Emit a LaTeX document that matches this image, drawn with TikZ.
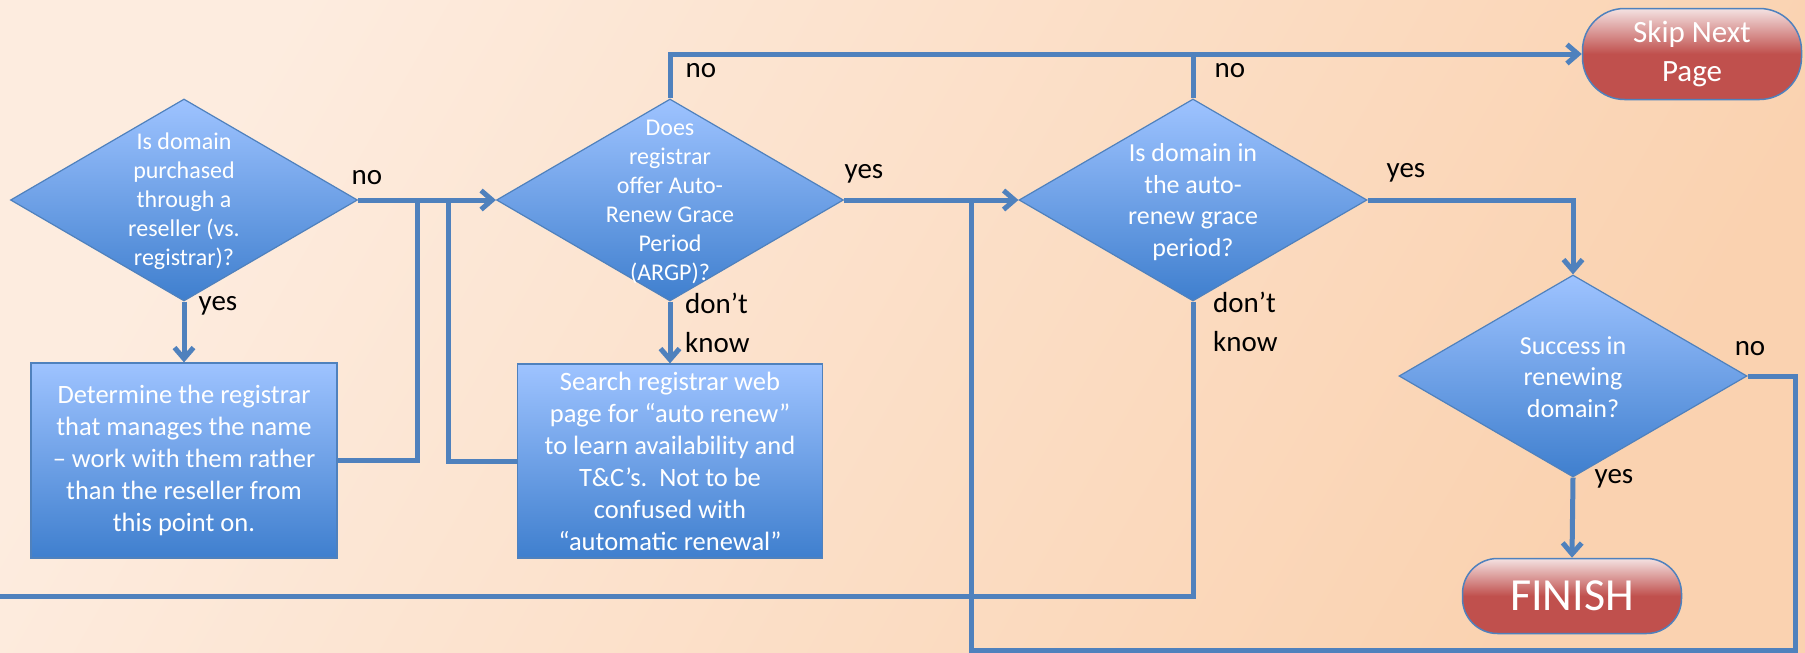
\documentclass[tikz,border=0pt]{standalone}
\usepackage{fontspec}
\setmainfont{Carlito}
\usetikzlibrary{shapes.geometric,arrows.meta}
\definecolor{bgL}{HTML}{FDECDF}
\definecolor{bgR}{HTML}{FAD2B0}
\definecolor{lineblue}{HTML}{4F81BD}
\definecolor{bTop}{HTML}{9EC3FF}
\definecolor{bBot}{HTML}{3F7FCE}
\definecolor{rTop}{HTML}{F4E2E2}
\definecolor{rMid}{HTML}{C0504D}
\begin{document}
\begin{tikzpicture}[x=1pt,y=-1pt,
  conn/.style={draw=lineblue, line width=5pt},
  arr/.style={conn, -{Straight Barb[length=11pt,width=19pt]}},
  dia/.style={diamond, draw=lineblue, line width=1.2pt, top color=bTop, bottom color=bBot,
    inner sep=0pt, minimum width=347pt, minimum height=202pt},
  dtext/.style={text=white, align=center, inner sep=0pt, font=\fontsize{24}{29}\selectfont},
  dtextb/.style={text=white, align=center, inner sep=0pt, font=\fontsize{26}{31.5}\selectfont},
  procbox/.style={rectangle, draw=lineblue, line width=1.2pt, top color=bTop, bottom color=bBot,
    text=white, align=center, inner sep=0pt, font=\fontsize{26.5}{32}\selectfont},
  term/.style={rectangle, draw=lineblue, line width=1.5pt, top color=rTop, bottom color=rMid,
    middle color=rMid, text=white, align=center, inner sep=0pt},
  lab/.style={text=black, inner sep=0pt, font=\fontsize{29}{39}\selectfont},
]
\useasboundingbox (0,0) rectangle (1805,653);
\shade[top color=bgL, bottom color=bgR, shading angle=60] (0,0) rectangle (1805,653);

% decisions
\node[dia] (d1) at (184,200) {};
\node[dtext] (t1) at (184,201) {Is domain\\purchased\\through a\\reseller (vs.\\registrar)?};
\node[dia] (d2) at (670,200) {};
\node[dtext] (t2) at (670,202) {Does\\registrar\\offer Auto-\\Renew Grace\\Period\\(ARGP)?};
\node[dia, minimum width=348pt] (d3) at (1193,200) {};
\node[dtextb] (t3) at (1193,202) {Is domain in\\the auto-\\renew grace\\period?};
\node[dia, minimum width=348pt] (d4) at (1573,376) {};
\node[dtextb] (t4) at (1573,377) {Success in\\renewing\\domain?};

% process boxes
\node[procbox, minimum width=306pt, minimum height=195pt] (b1) at (184,460.5)
  {Determine the registrar\\that manages the name\\– work with them rather\\than the reseller from\\this point on.};
\node[procbox, minimum width=305pt, minimum height=194pt] (b2) at (670,461)
  {Search registrar web\\page for “auto renew”\\to learn availability and\\T\&C’s.\ \ Not to be\\confused with\\“automatic renewal”};

% terminators
\node[term, rounded corners=42pt, minimum width=219pt, minimum height=91pt,
  font=\fontsize{31}{39}\selectfont] (skip) at (1692,54) {Skip Next\\Page};
\node[term, rounded corners=35pt, minimum width=219pt, minimum height=75pt,
  font=\fontsize{46}{50}\selectfont] (fin) at (1572,596) {FINISH};

% junction coordinates
\coordinate (j1) at (417,200);
\coordinate (j2) at (448,200);
\coordinate (j3) at (971,200);
\coordinate (rc) at (1795,650);
\coordinate (lft) at (0,596);

% connectors
\draw[arr] (d1.east) -- (d2.west);
\draw[conn] (b1.east) -| (j1);
\draw[conn] (b2.west) -| (j2);
\draw[arr] (d1.south) -- (b1.north);
\draw[arr] (d2.south) -- (b2.north);
\draw[arr] (d2.north) |- (skip.west);
\draw[conn] (d3.north) -- (d3.north |- skip.west);
\draw[arr] (d2.east) -- (d3.west);
\draw[arr] (d3.east) -| (d4.north);
\draw[arr] (d4.south) -- (fin.north);
\draw[conn] (d4.east) -| (rc) -| (j3);
\draw[conn] (d3.south) |- (lft);

% labels
\node[lab] (l1) at (367,178) {no};
\node[lab] (l2) at (218,306) {yes};
\node[lab] (l3) at (701,71) {no};
\node[lab] (l4) at (864,174) {yes};
\node[lab, anchor=west, align=left] (l5) at (685,323) {don’t\\know};
\node[lab] (l6) at (1230,71) {no};
\node[lab] (l7) at (1406,173) {yes};
\node[lab, anchor=west, align=left] (l8) at (1213,322) {don’t\\know};
\node[lab] (l9) at (1750,349) {no};
\node[lab] (l10) at (1614,479) {yes};
\end{tikzpicture}
\end{document}
